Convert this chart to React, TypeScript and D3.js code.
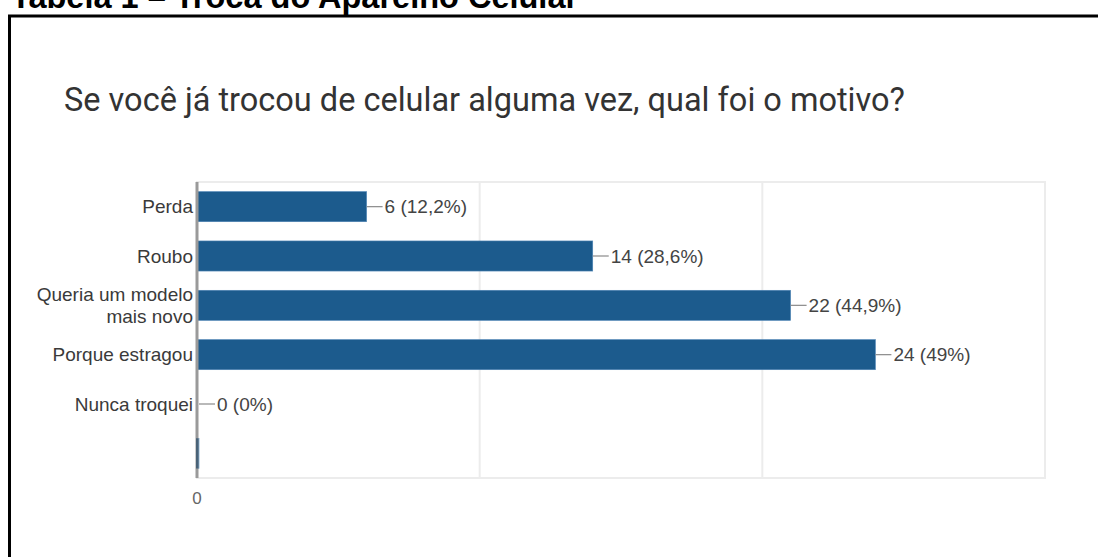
import React from "react";
import * as d3 from "d3";

// ---- data ----
const pageTitle = "Tabela 1 – Troca do Aparelho Celular";
const chartTitle = "Se você já trocou de celular alguma vez, qual foi o motivo?";
const categories = ["Perda", "Roubo", "Queria um modelo\nmais novo", "Porque estragou", "Nunca troquei", ""];
// bar lengths as drawn in the picture
const barValues = [6, 14, 21, 24, 0, 0.07];
const valueLabels = ["6 (12,2%)", "14 (28,6%)", "22 (44,9%)", "24 (49%)", "0 (0%)", ""];
const xTicks = [0, 10, 20, 30];
const xTickLabels = ["0"];

const W = 1098;
const H = 557;

export default function App() {
  const left = 197;
  const right = 1045;
  const top = 182;
  const bottom = 478;
  const x = d3.scaleLinear().domain([0, 30]).range([left, right]);
  const y = d3
    .scaleBand<string>()
    .domain(categories.map((c, i) => String(i)))
    .range([top, bottom])
    .paddingInner(0.39)
    .paddingOuter(0.195);
  const barColor = "#1c5b8d";
  const labelFont = "'Liberation Sans', Arial, sans-serif";

  return (
    <svg
      width={W}
      height={H}
      style={{ position: "absolute", left: 0, top: 0, background: "#fff" }}
    >
      {/* page heading */}
      <text
        x={11}
        y={8}
        fontFamily={labelFont}
        fontWeight="bold"
        fontSize={32.5}
        fill="#000"
      >
        {pageTitle}
      </text>
      {/* outer frame */}
      <rect x={9.5} y={16} width={W + 20} height={H + 20} fill="none" stroke="#000" strokeWidth={3} />

      {/* chart title */}
      <text x={64} y={111} fontFamily="Roboto, sans-serif" fontSize={32.5} fill="#333">
        {chartTitle}
      </text>

      {/* plot frame & gridlines */}
      <rect x={left} y={top} width={right - left} height={bottom - top} fill="none" stroke="#ececec" strokeWidth={2} />
      {xTicks.slice(1, -1).map((t) => (
        <line key={t} x1={x(t)} x2={x(t)} y1={top} y2={bottom} stroke="#ececec" strokeWidth={2} />
      ))}

      {/* bars */}
      {barValues.map((v, i) => {
        const yy = y(String(i))!;
        const bw = x(v) - x(0);
        return bw > 0.5 ? (
          <rect
            key={i}
            x={x(0)}
            y={yy}
            width={bw}
            height={y.bandwidth()}
            fill={barColor}
            stroke="#4d84b5"
            strokeWidth={0.6}
          />
        ) : null;
      })}

      {/* axis line */}
      <line x1={left} x2={left} y1={top} y2={bottom} stroke="#9a9a9a" strokeWidth={3} />
      {barValues.map((v, i) =>
        v > 0 && x(v) - x(0) < 3 ? (
          <line
            key={"thin" + i}
            x1={left}
            x2={left}
            y1={y(String(i))!}
            y2={y(String(i))! + y.bandwidth()}
            stroke="#2e4f6b"
            strokeWidth={1.5}
          />
        ) : null
      )}

      {/* value labels */}
      {barValues.map((v, i) => {
        if (!valueLabels[i]) return null;
        const cy = y(String(i))! + y.bandwidth() / 2;
        const x0 = x(v) + (v === 0 ? 2 : 0);
        return (
          <g key={"vl" + i}>
            <line x1={x0} x2={x0 + 16} y1={cy} y2={cy} stroke="#8a8a8a" strokeWidth={1.2} />
            <text
              x={x0 + 18}
              y={cy}
              dy="0.35em"
              fontFamily={labelFont}
              fontSize={19}
              fill="#444"
            >
              {valueLabels[i]}
            </text>
          </g>
        );
      })}

      {/* category labels */}
      {categories.map((c, i) => {
        const cy = y(String(i))! + y.bandwidth() / 2;
        const lines = c.split("\n");
        const lh = 21.5;
        return (
          <text
            key={"cl" + i}
            x={left - 4}
            textAnchor="end"
            fontFamily={labelFont}
            fontSize={19}
            fill="#3a3a3a"
          >
            {lines.map((ln, j) => (
              <tspan key={j} x={left - 4} y={cy + (j - (lines.length - 1) / 2) * lh} dy="0.35em">
                {ln}
              </tspan>
            ))}
          </text>
        );
      })}

      {/* x tick labels */}
      {xTickLabels.map((t, i) => (
        <text
          key={"xt" + i}
          x={x(xTicks[i])}
          y={498}
          dy="0.35em"
          textAnchor="middle"
          fontFamily={labelFont}
          fontSize={17}
          fill="#666"
        >
          {t}
        </text>
      ))}
    </svg>
  );
}
